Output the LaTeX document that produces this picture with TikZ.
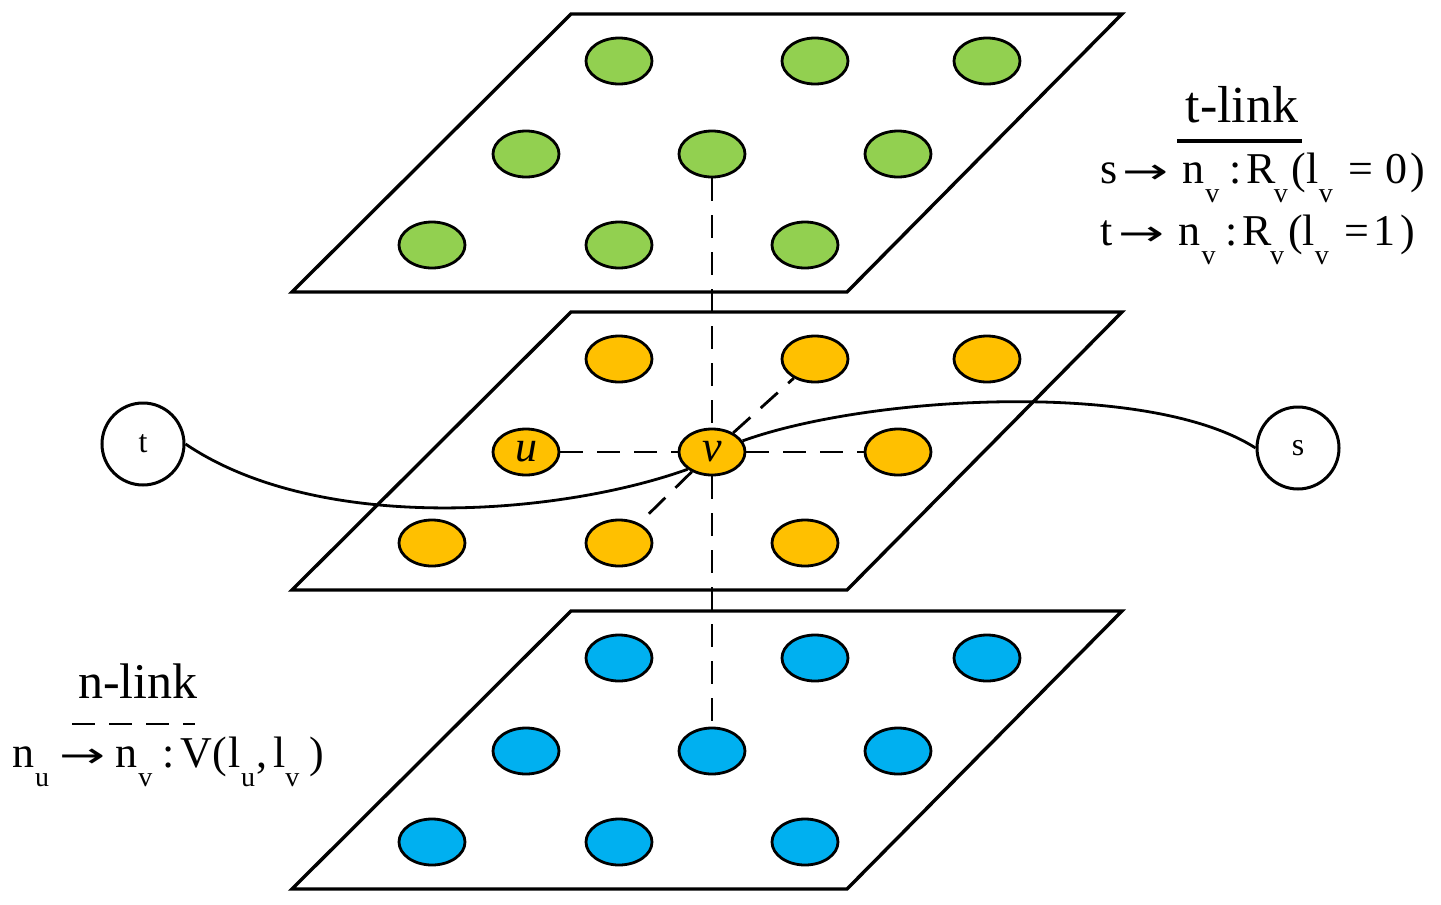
\documentclass[tikz,border=0pt]{standalone}
\usepackage{fontspec}
\setmainfont{Liberation Serif}
\newfontfamily\arrfont{DejaVu Sans}
\usetikzlibrary{shapes.geometric}
\definecolor{cgreen}{HTML}{92D050}
\definecolor{corange}{HTML}{FFC000}
\definecolor{cblue}{HTML}{00B0F0}
\newcommand{\sbs}[1]{\raisebox{-19pt}{\fontsize{28}{28}\selectfont #1}}
\newcommand{\rarr}{\scalebox{1.25}[0.8]{\arrfont →}}
\begin{document}
\begin{tikzpicture}[x=1pt,y=-1pt,
  plane/.style={draw=black, line width=3.4pt, fill=white, line join=miter},
  ell/.style={ellipse, draw=black, line width=2.8pt, minimum width=66pt, minimum height=46pt, inner sep=0pt},
  nlink/.style={dash pattern=on 23pt off 14pt, line width=2.8pt},
  tlink/.style={line width=2.8pt},
  term/.style={circle, draw=black, line width=3pt, minimum size=82pt, inner sep=0pt, font=\fontsize{32}{36}\selectfont},
  lab/.style={font=\fontsize{44}{48}\selectfont, inner sep=0pt},
  head/.style={inner sep=0pt}]
\useasboundingbox (0,0) rectangle (1441,905);
% planes
\foreach \o in {0,298,597}{
  \draw[plane] (571,14+\o) -- (1122,14+\o) -- (847,292+\o) -- (292,292+\o) -- cycle;
}
% ellipses
\foreach \p/\o/\c in {g/0/cgreen, m/298/corange, b/597/cblue}{
  \node[ell, fill=\c] (\p11) at (619,61+\o) {};
  \node[ell, fill=\c] (\p12) at (815,61+\o) {};
  \node[ell, fill=\c] (\p13) at (987,61+\o) {};
  \node[ell, fill=\c] (\p23) at (898,154+\o) {};
  \node[ell, fill=\c] (\p31) at (432,245+\o) {};
  \node[ell, fill=\c] (\p32) at (619,245+\o) {};
  \node[ell, fill=\c] (\p33) at (805,245+\o) {};
}
\node[ell, fill=cgreen] (g21) at (526,154) {};
\node[ell, fill=cblue] (b21) at (526,751) {};
\node[ell, fill=cgreen] (g22) at (712,154) {};
\node[ell, fill=cblue] (b22) at (712,751) {};
\node[ell, fill=corange, font=\fontsize{44}{44}\selectfont\itshape] (u) at (526,452) {u};
\node[ell, fill=corange, font=\fontsize{44}{44}\selectfont\itshape] (v) at (712,452) {v};
% n-links
\draw[nlink] (g22) -- (v);
\draw[nlink] (v) -- (b22);
\draw[nlink] (u) -- (v);
\draw[nlink] (v) -- (m23);
\draw[nlink] (v) -- (m12);
\draw[nlink] (v) -- (m32);
% terminals
\node[term] (t) at (143,444) {t};
\node[term] (s) at (1298,448) {s};
% t-links
\draw[tlink] (t.east) .. controls (320,535) and (560,515) .. (v.south west);
\draw[tlink] (v.20) .. controls (870,395) and (1150,380) .. (s.west);
% legend t-link
\node[head, anchor=base, font=\fontsize{52}{56}\selectfont] (tl) at (1242,122) {t-link};
\coordinate (tla) at (1177,141);
\coordinate (tlb) at (1302,141);
\draw[line width=3.2pt] (tla) -- (tlb);
\node[lab, anchor=base west] (f1) at (1100,183) {s\kern5pt\rarr\kern14pt n\kern1pt\sbs{v}\kern10pt:\kern5pt R\kern-2pt\sbs{v}\kern4pt(l\kern0pt\sbs{v}\kern16pt=\kern12pt0\kern3pt)};
\node[lab, anchor=base west] (f2) at (1100,245) {t\kern6pt\rarr\kern14pt n\kern1pt\sbs{v}\kern10pt:\kern5pt R\kern-2pt\sbs{v}\kern4pt(l\kern0pt\sbs{v}\kern16pt=\kern4pt1\kern5pt)};
% legend n-link
\node[head, anchor=base, font=\fontsize{50}{54}\selectfont] (nl) at (138,698) {n-link};
\coordinate (nla) at (72,724);
\coordinate (nlb) at (195,724);
\draw[nlink] (nla) -- (nlb);
\node[lab, anchor=base west] (f3) at (12,767) {n\kern1pt\sbs{u}\kern10pt\rarr\kern10pt n\kern1pt\sbs{v}\kern10pt:\kern6pt V(\kern2pt l\kern0pt\sbs{u}\kern1pt,\kern6pt l\kern0pt\sbs{v}\kern10pt)};
\end{tikzpicture}
\end{document}
